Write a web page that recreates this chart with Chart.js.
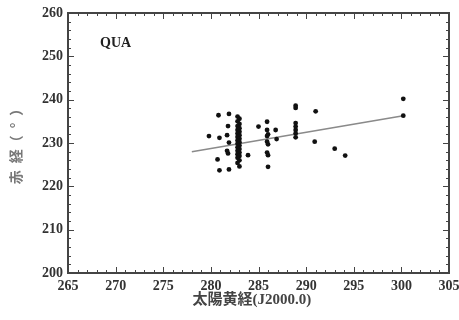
<!DOCTYPE html>
<html>
<head>
<meta charset="utf-8">
<script src="https://cdn.jsdelivr.net/npm/chart.js@4/dist/chart.umd.min.js"></script>
<style>
html,body{margin:0;padding:0;background:#fff;}
#wrap{width:459px;height:320px;position:relative;}
</style>
</head>
<body>
<div id="wrap"><canvas id="c"></canvas></div>
<script>
// Data
const xLabel = "太陽黄経(J2000.0)";
const yLabel = "赤\u2002経（\u2002°\u2002）";
const panelLabel = "QUA";
const xTicks = [265, 270, 275, 280, 285, 290, 295, 300, 305];
const yTicks = [200, 210, 220, 230, 240, 250, 260];
const solarLongitude = [
  280.8, 281.9, 279.8, 280.9, 281.8, 281.7, 281.9, 281.7, 281.8, 280.7, 280.9, 281.9, 283.9,
  282.8, 283.0, 282.8, 283.0, 282.8, 283.0, 282.8, 283.0, 282.8, 283.0, 282.8, 283.0, 282.8,
  283.0, 282.8, 283.0, 282.8, 283.0, 282.8, 283.0, 282.8, 283.0, 282.8, 283.0, 282.8, 283.0,
  285.0, 285.9, 285.9, 286.0, 285.9, 286.8, 286.9, 285.9, 286.0, 285.9, 286.0, 286.0,
  288.9, 288.9, 288.9, 288.9, 288.9, 288.9, 288.9,
  291.0, 290.9, 293.0, 294.1, 300.2, 300.2
];
const rightAscension = [
  236.4, 236.7, 231.6, 231.2, 233.9, 231.8, 230.1, 228.2, 227.6, 226.2, 223.7, 223.9, 227.2,
  236.1, 235.6, 235.0, 234.4, 233.9, 233.4, 233.0, 232.6, 232.2, 231.8, 231.4, 231.0, 230.6,
  230.2, 229.8, 229.4, 229.0, 228.6, 228.2, 227.8, 227.4, 227.0, 226.6, 226.0, 225.4, 224.6,
  233.8, 234.9, 233.0, 232.0, 231.6, 233.0, 230.9, 230.3, 229.7, 227.8, 227.2, 224.5,
  238.6, 238.1, 234.6, 233.8, 233.0, 232.2, 231.3,
  237.3, 230.3, 228.7, 227.1, 240.2, 236.3
];
const fitX = [278.0, 300.2];
const fitY = [228.0, 236.3];

const points = solarLongitude.map((x, i) => ({x: x, y: rightAscension[i]}));
const fitLine = fitX.map((x, i) => ({x: x, y: fitY[i]}));

const SERIF = '"Liberation Serif", "Times New Roman", serif';

const framePlugin = {
  id: 'frame',
  afterDatasetsDraw(chart) {
    const ctx = chart.ctx, a = chart.chartArea;
    const xs = chart.scales.x, ys = chart.scales.y;
    ctx.save();
    ctx.strokeStyle = '#444';
    ctx.lineWidth = 1;
    ctx.beginPath();
    for (let v = xs.min; v <= xs.max; v += 1) {
      const px = Math.round(xs.getPixelForValue(v)) + 0.5;
      const len = (v % 5 === 0) ? 6 : 3;
      ctx.moveTo(px, a.bottom); ctx.lineTo(px, a.bottom - len);
      ctx.moveTo(px, a.top); ctx.lineTo(px, a.top + len);
    }
    for (let v = ys.min; v <= ys.max; v += 2) {
      const py = Math.round(ys.getPixelForValue(v)) + 0.5;
      const len = (v % 10 === 0) ? 6 : 3;
      ctx.moveTo(a.left, py); ctx.lineTo(a.left + len, py);
      ctx.moveTo(a.right, py); ctx.lineTo(a.right - len, py);
    }
    ctx.stroke();
    ctx.lineWidth = 2;
    ctx.strokeRect(a.left, a.top, a.right - a.left, a.bottom - a.top);
    ctx.fillStyle = '#222';
    ctx.font = 'bold 14px ' + SERIF;
    ctx.textBaseline = 'middle';
    ctx.fillText(panelLabel, a.left + 32, a.top + 30);
    // x axis title
    ctx.fillStyle = '#444';
    ctx.font = 'bold 15px "Liberation Serif", "Noto Sans CJK JP", serif';
    ctx.textAlign = 'center';
    ctx.fillText(xLabel, xs.getPixelForValue(284.3), 300);
    ctx.restore();
  }
};

new Chart(document.getElementById('c'), {
  type: 'scatter',
  data: {
    datasets: [
      {
        label: 'fit',
        data: fitLine,
        showLine: true,
        borderColor: '#8a8a8a',
        borderWidth: 1.6,
        pointRadius: 0,
        order: 2
      },
      {
        label: 'meteors',
        data: points,
        backgroundColor: '#111',
        borderColor: '#111',
        pointRadius: 2.4,
        borderWidth: 0,
        order: 1
      }
    ]
  },
  options: {
    responsive: true,
    maintainAspectRatio: false,
    animation: false,
    layout: {padding: {top: 13, right: 10, left: 0, bottom: 0}},
    plugins: {legend: {display: false}, tooltip: {enabled: false}},
    scales: {
      x: {
        type: 'linear', min: 265, max: 305,
        afterBuildTicks(s) { s.ticks = xTicks.map(v => ({value: v})); },
        afterFit(s) { s.height = 47; s.paddingLeft = 0; s.paddingRight = 0; },
        grid: {display: false, drawTicks: false},
        border: {display: false},
        ticks: {color: '#333', padding: 5, maxRotation: 0, font: {family: SERIF, size: 14, weight: 'bold'}},
        title: {display: false}
      },
      y: {
        type: 'linear', min: 200, max: 260,
        afterBuildTicks(s) { s.ticks = yTicks.map(v => ({value: v})); },
        afterFit(s) { s.width = 68; s.paddingTop = 0; s.paddingBottom = 0; },
        grid: {display: false, drawTicks: false},
        border: {display: false},
        ticks: {color: '#333', padding: 5, font: {family: SERIF, size: 14, weight: 'bold'}},
        title: {display: true, text: yLabel, color: '#777', padding: {top: 7, bottom: 0},
          font: {family: '"Noto Sans CJK JP", sans-serif', size: 14, weight: 'bold'}}
      }
    }
  },
  plugins: [framePlugin]
});
</script>
</body>
</html>
